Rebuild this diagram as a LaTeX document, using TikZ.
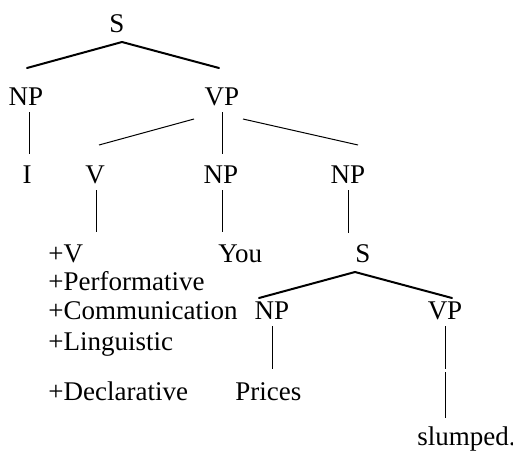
\documentclass[tikz,border=0pt]{standalone}
\usepackage{fontspec}
\setmainfont{Liberation Serif}
\begin{document}
\begin{tikzpicture}[x=0.5pt,y=-0.5pt,
  lbl/.style={inner sep=0pt,anchor=base,font=\fontsize{13.5}{15}\selectfont},
  lblw/.style={lbl,anchor=base west},
  branch/.style={line width=1pt,line cap=round,line join=round},
  twig/.style={line width=0.5pt}]
\useasboundingbox (0,0) rectangle (513,451);
% labels
\node[lbl] (s1) at (117,32) {S};
\node[lbl] (np1) at (26,105) {NP};
\node[lbl] (vp1) at (222,105) {VP};
\node[lbl] (i) at (27,183) {I};
\node[lbl] (v) at (95,183) {V};
\node[lbl] (np2) at (221,183) {NP};
\node[lbl] (np3) at (348,183) {NP};
\node[lblw] (fv) at (48,262) {+V};
\node[lblw] (fperf) at (48,290) {+Performative};
\node[lblw] (fcomm) at (48,319) {+Communication};
\node[lblw] (fling) at (48,350) {+Linguistic};
\node[lblw] (fdecl) at (48,400) {+Declarative};
\node[lblw] (you) at (218,262) {You};
\node[lbl] (s2) at (363,262) {S};
\node[lbl] (np4) at (272,319) {NP};
\node[lbl] (vp2) at (445,319) {VP};
\node[lblw] (prices) at (235,400) {Prices};
\node[lblw] (slumped) at (417,445) {slumped.};
% branch end points
\coordinate (s1b) at (122,42);
\coordinate (np1t) at (27,68);
\coordinate (vp1t) at (219,68);
\coordinate (np1b) at (29,112);
\coordinate (it) at (29,154);
\coordinate (vp1bl) at (194,119);
\coordinate (vt) at (99,145);
\coordinate (vp1b) at (222,112);
\coordinate (np2t) at (222,154);
\coordinate (vp1br) at (243,119);
\coordinate (np3t) at (358,145);
\coordinate (vb) at (96,190);
\coordinate (fvt) at (96,232);
\coordinate (np2b) at (222,190);
\coordinate (yout) at (222,232);
\coordinate (np3b) at (348,190);
\coordinate (s2t) at (348,233);
\coordinate (s2b) at (355,272);
\coordinate (np4t) at (259,298);
\coordinate (vp2t) at (452,298);
\coordinate (np4b) at (272,326);
\coordinate (pricest) at (272,369);
\coordinate (vp2b) at (445,326);
\coordinate (vp2m) at (445,369);
\coordinate (vp2n) at (445,372);
\coordinate (slumpedt) at (445,418);
% connectors
\draw[branch] (np1t) -- (s1b) -- (vp1t);
\draw[twig] (np1b) -- (it);
\draw[twig] (vp1bl) -- (vt);
\draw[twig] (vp1b) -- (np2t);
\draw[twig] (vp1br) -- (np3t);
\draw[twig] (vb) -- (fvt);
\draw[twig] (np2b) -- (yout);
\draw[twig] (np3b) -- (s2t);
\draw[branch] (np4t) -- (s2b) -- (vp2t);
\draw[twig] (np4b) -- (pricest);
\draw[twig] (vp2b) -- (vp2m);
\draw[twig] (vp2n) -- (slumpedt);
\end{tikzpicture}
\end{document}
